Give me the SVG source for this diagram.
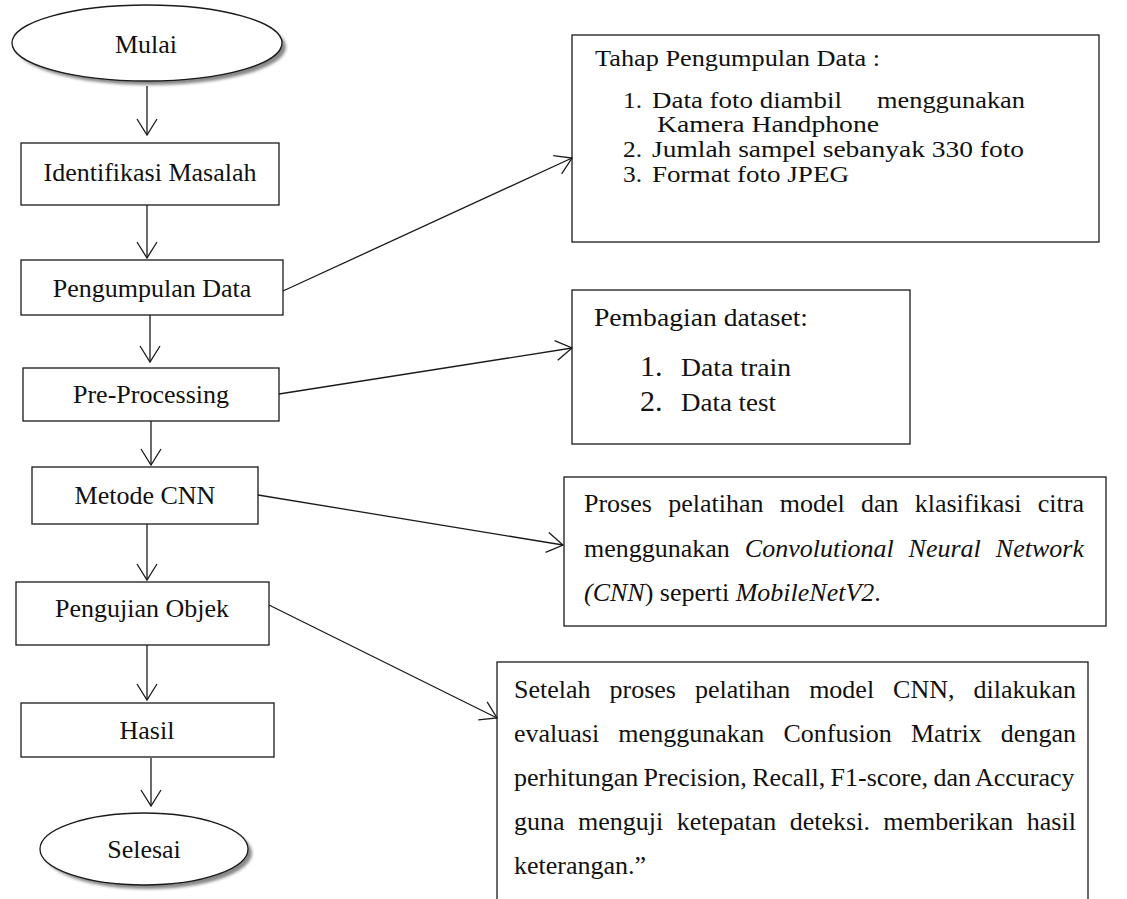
<svg xmlns="http://www.w3.org/2000/svg" width="1127" height="899" viewBox="0 0 1127 899">
<style>
.box{fill:#fff;stroke:#1a1a1a;stroke-width:1.3}
.t{font-family:"Liberation Serif","Times New Roman",serif;font-size:26px;fill:#111}
.s{font-size:23px}
.c{text-anchor:middle}
.i{font-style:italic}
.ln{stroke:#1a1a1a;stroke-width:1.3;fill:none;marker-end:url(#arr)}
</style>
<defs>
<marker id="arr" markerUnits="userSpaceOnUse" markerWidth="16" markerHeight="20" viewBox="0 0 16 20" refX="16" refY="10" orient="auto" overflow="visible">
<path d="M0,0 L16,10 L0,20" fill="none" stroke="#1a1a1a" stroke-width="1.3"/>
</marker>
<filter id="sh" x="-10%" y="-20%" width="130%" height="150%">
<feGaussianBlur stdDeviation="1.8"/>
</filter>
</defs>
<rect width="1127" height="899" fill="#fff"/>

<g id="mulai">
<ellipse cx="151" cy="47" rx="135" ry="38" fill="#888" filter="url(#sh)"/>
<ellipse cx="147" cy="43" rx="135" ry="38" class="box"/>
<text x="146" y="53" class="t c">Mulai</text>
</g>
<g id="identifikasi">
<rect x="21" y="143" width="258" height="62" class="box"/>
<text x="150" y="181" class="t c">Identifikasi Masalah</text>
</g>
<g id="pengumpulan">
<rect x="21" y="260" width="262" height="55" class="box"/>
<text x="152" y="297" class="t c">Pengumpulan Data</text>
</g>
<g id="preprocessing">
<rect x="23" y="368" width="256" height="53" class="box"/>
<text x="151" y="403" class="t c">Pre-Processing</text>
</g>
<g id="metode">
<rect x="32" y="467" width="226" height="57" class="box"/>
<text x="145" y="504" class="t c">Metode CNN</text>
</g>
<g id="pengujian">
<rect x="16" y="582" width="253" height="63" class="box"/>
<text x="142" y="617" class="t c">Pengujian Objek</text>
</g>
<g id="hasil">
<rect x="21" y="703" width="253" height="54" class="box"/>
<text x="147" y="739" class="t c">Hasil</text>
</g>
<g id="selesai">
<ellipse cx="148" cy="853" rx="104" ry="36" fill="#888" filter="url(#sh)"/>
<ellipse cx="144" cy="849" rx="104" ry="36" class="box"/>
<text x="144" y="858" class="t c">Selesai</text>
</g>

<g id="tahap">
<rect x="572" y="35" width="527" height="207" class="box"/>
<text x="595" y="66" class="t s" textLength="285" lengthAdjust="spacingAndGlyphs">Tahap Pengumpulan Data :</text>
<text x="623" y="108" class="t s" textLength="19" lengthAdjust="spacingAndGlyphs">1.</text>
<text x="652" y="108" class="t s" textLength="190" lengthAdjust="spacingAndGlyphs">Data foto diambil</text>
<text x="877" y="108" class="t s" textLength="148" lengthAdjust="spacingAndGlyphs">menggunakan</text>
<text x="657" y="132" class="t s" textLength="222" lengthAdjust="spacingAndGlyphs">Kamera Handphone</text>
<text x="623" y="157" class="t s" textLength="19" lengthAdjust="spacingAndGlyphs">2.</text>
<text x="652" y="157" class="t s" textLength="372" lengthAdjust="spacingAndGlyphs">Jumlah sampel sebanyak 330 foto</text>
<text x="623" y="182" class="t s" textLength="19" lengthAdjust="spacingAndGlyphs">3.</text>
<text x="652" y="182" class="t s" textLength="197" lengthAdjust="spacingAndGlyphs">Format foto JPEG</text>
</g>

<g id="pembagian">
<rect x="572" y="290" width="338" height="154" class="box"/>
<text x="594" y="326" class="t" textLength="214" lengthAdjust="spacingAndGlyphs">Pembagian dataset:</text>
<text x="640" y="376" class="t" style="font-size:30px">1.</text>
<text x="681" y="376" class="t" textLength="110" lengthAdjust="spacingAndGlyphs">Data train</text>
<text x="640" y="411" class="t" style="font-size:30px">2.</text>
<text x="681" y="411" class="t" textLength="95" lengthAdjust="spacingAndGlyphs">Data test</text>
</g>

<g id="cnnproses">
<rect x="564" y="477" width="542" height="149" class="box"/>
<text x="584" y="512" class="t" word-spacing="9.74">Proses pelatihan model dan klasifikasi citra</text>
<text x="584" y="557" class="t" word-spacing="8.5">menggunakan <tspan class="i">Convolutional Neural Network</tspan></text>
<text x="584" y="601" class="t"><tspan class="i">(CNN</tspan>) seperti <tspan class="i">MobileNetV2</tspan>.</text>
</g>

<g id="evaluasi">
<rect x="497" y="662" width="591" height="250" class="box"/>
<text x="514" y="698" class="t" word-spacing="12.46">Setelah proses pelatihan model CNN, dilakukan</text>
<text x="514" y="742" class="t" word-spacing="12.68">evaluasi menggunakan Confusion Matrix dengan</text>
<text x="514" y="786" class="t" word-spacing="-1.1">perhitungan Precision, Recall, F1-score, dan Accuracy</text>
<text x="514" y="830" class="t" word-spacing="6.96">guna menguji ketepatan deteksi. memberikan hasil</text>
<text x="514" y="874" class="t">keterangan.”</text>
</g>

<g id="connectors">
<line x1="147" y1="86" x2="147" y2="135" class="ln"/>
<line x1="147" y1="205" x2="147" y2="258" class="ln"/>
<line x1="150" y1="315" x2="150" y2="362" class="ln"/>
<line x1="151" y1="421" x2="151" y2="465" class="ln"/>
<line x1="147" y1="524" x2="147" y2="580" class="ln"/>
<line x1="147" y1="645" x2="147" y2="700" class="ln"/>
<line x1="151" y1="758" x2="151" y2="806" class="ln"/>
<line x1="283" y1="291" x2="572" y2="158" class="ln"/>
<line x1="279" y1="394" x2="572" y2="348" class="ln"/>
<line x1="258" y1="495" x2="563" y2="545" class="ln"/>
<line x1="269" y1="605" x2="497" y2="718" class="ln"/>
</g>
</svg>
